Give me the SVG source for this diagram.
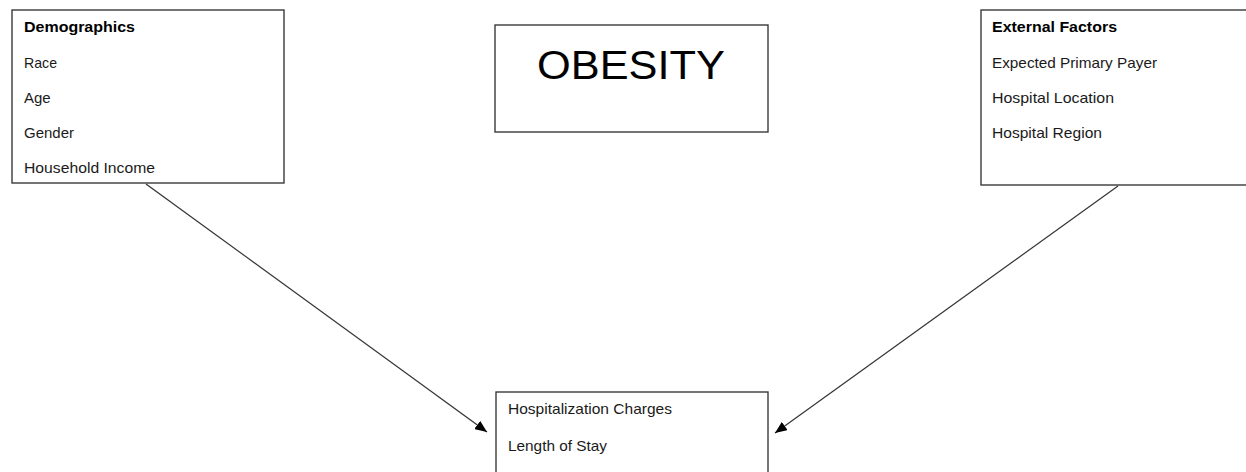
<svg xmlns="http://www.w3.org/2000/svg" width="1246" height="472" viewBox="0 0 1246 472">
<style>
.box{fill:#fff;stroke:#3a3a3a;stroke-width:1.4}
.t{font-family:"Liberation Sans",Arial,sans-serif;font-size:15px;fill:#1a1a1a}
.b{font-weight:bold;fill:#000}
.big{font-family:"Liberation Sans",Arial,sans-serif;font-size:41px;fill:#000}
.conn{stroke:#333;stroke-width:1.2;fill:none}
</style>
<defs>
<marker id="arr" viewBox="0 0 12 10" refX="12" refY="5" markerWidth="12" markerHeight="10" markerUnits="userSpaceOnUse" orient="auto">
<path d="M0,0 L12,5 L0,10 Z" fill="#000"/>
</marker>
</defs>
<rect width="1246" height="472" fill="#fff"/>
<g id="connectors">
<line class="conn" x1="146" y1="184" x2="487" y2="432" marker-end="url(#arr)"/>
<line class="conn" x1="1118" y1="186" x2="775" y2="433" marker-end="url(#arr)"/>
</g>
<g id="demographics">
<rect class="box" x="12" y="10" width="272" height="173"/>
<text class="t b" x="24" y="32" textLength="111" lengthAdjust="spacingAndGlyphs">Demographics</text>
<text class="t" x="24" y="68" textLength="33" lengthAdjust="spacingAndGlyphs">Race</text>
<text class="t" x="24" y="103">Age</text>
<text class="t" x="24" y="138">Gender</text>
<text class="t" x="24" y="173" textLength="131" lengthAdjust="spacingAndGlyphs">Household Income</text>
</g>
<g id="obesity">
<rect class="box" x="495" y="25" width="273" height="107"/>
<text class="big" x="631" y="79" text-anchor="middle" textLength="188" lengthAdjust="spacingAndGlyphs">OBESITY</text>
</g>
<g id="external">
<rect class="box" x="981" y="10" width="270" height="175"/>
<text class="t b" x="992" y="32" textLength="125" lengthAdjust="spacingAndGlyphs">External Factors</text>
<text class="t" x="992" y="68" textLength="165" lengthAdjust="spacingAndGlyphs">Expected Primary Payer</text>
<text class="t" x="992" y="103" textLength="122" lengthAdjust="spacingAndGlyphs">Hospital Location</text>
<text class="t" x="992" y="138" textLength="110" lengthAdjust="spacingAndGlyphs">Hospital Region</text>
</g>
<g id="outcomes">
<rect class="box" x="496" y="392" width="272" height="90"/>
<text class="t" x="508" y="414" textLength="164" lengthAdjust="spacingAndGlyphs">Hospitalization Charges</text>
<text class="t" x="508" y="451" textLength="99" lengthAdjust="spacingAndGlyphs">Length of Stay</text>
</g>
</svg>
